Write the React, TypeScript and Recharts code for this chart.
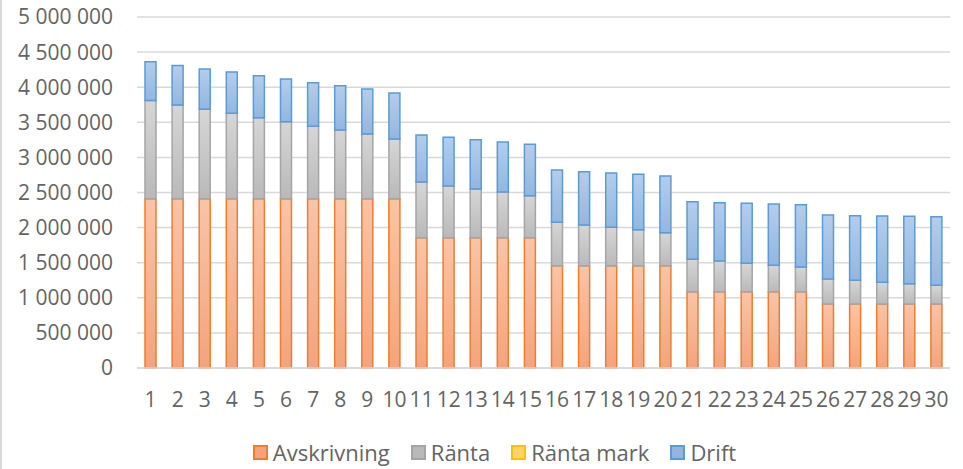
import { BarChart, Bar, XAxis, YAxis, CartesianGrid, Legend } from 'recharts';

const years = ['1', '2', '3', '4', '5', '6', '7', '8', '9', '10', '11', '12', '13', '14', '15', '16', '17', '18', '19', '20', '21', '22', '23', '24', '25', '26', '27', '28', '29', '30'];

const avskrivning = [
  2410000, 2410000, 2410000, 2410000, 2410000, 2410000, 2410000, 2410000, 2410000, 2410000,
  1855000, 1855000, 1855000, 1855000, 1855000, 1455000, 1455000, 1455000, 1455000, 1455000,
  1085000, 1085000, 1085000, 1085000, 1085000, 910000, 910000, 910000, 910000, 910000,
];
const ranta = [
  1400000, 1336000, 1275000, 1218000, 1156000, 1099000, 1033000, 980000, 923000, 852000,
  795000, 738000, 695000, 652000, 599000, 620000, 582000, 549000, 515000, 472000,
  463000, 439000, 406000, 378000, 354000, 358000, 339000, 311000, 291000, 268000,
];
const rantaMark = [
  0, 0, 0, 0, 0, 0, 0, 0, 0, 0,
  0, 0, 0, 0, 0, 0, 0, 0, 0, 0,
  0, 0, 0, 0, 0, 0, 0, 0, 0, 0,
];
const drift = [
  551000, 563000, 575000, 588000, 598000, 608000, 622000, 630000, 642000, 655000,
  669000, 693000, 703000, 712000, 733000, 746000, 759000, 774000, 789000, 808000,
  821000, 831000, 855000, 873000, 887000, 911000, 921000, 944000, 960000, 977000,
];
const yTicks = [0, 500000, 1000000, 1500000, 2000000, 2500000, 3000000, 3500000, 4000000, 4500000, 5000000];

const chartData = years.map((year, i) => ({
  year,
  avskrivning: avskrivning[i],
  ranta: ranta[i],
  rantaMark: rantaMark[i],
  drift: drift[i],
}));

const series = [
  { key: 'avskrivning', name: 'Avskrivning', stroke: '#ed7d31', top: '#f9c4a7', bottom: '#f4a47b' },
  { key: 'ranta', name: 'Ränta', stroke: '#a5a5a5', top: '#d6d6d6', bottom: '#b9b9b9' },
  { key: 'rantaMark', name: 'Ränta mark', stroke: '#ffc000', top: '#ffe29a', bottom: '#ffd369' },
  { key: 'drift', name: 'Drift', stroke: '#5b9bd5', top: '#b3cdec', bottom: '#93b6e0' },
];

const font = '"Open Sans", sans-serif';
const textColor = '#646464';

const formatNumber = (v: number) => String(v).replace(/\B(?=(\d{3})+(?!\d))/g, ' ');

const renderLegend = () => (
  <div
    style={{
      display: 'flex',
      justifyContent: 'center',
      alignItems: 'center',
      gap: 21,
      height: 30,
      paddingLeft: 26,
      fontFamily: font,
      fontSize: 22,
      color: textColor,
    }}
  >
    {series.map((s) => (
      <span key={s.key} style={{ display: 'flex', alignItems: 'center' }}>
        <span
          style={{
            display: 'inline-block',
            width: 11,
            height: 11,
            border: `2px solid ${s.stroke}`,
            background: s.bottom,
            marginRight: 5,
          }}
        />
        {s.name}
      </span>
    ))}
  </div>
);

export default function App() {
  return (
    <div style={{ position: 'fixed', left: 0, top: 0, width: 963, height: 469, background: '#fff' }}>
      <div style={{ position: 'absolute', left: 0, top: 0, width: 2, height: 469, background: '#d9d9d9' }} />
      <BarChart
        width={963}
        height={469}
        data={chartData}
        margin={{ top: 17, right: 13, left: 0, bottom: 26 }}
        barCategoryGap="55%"
      >
        <defs>
          {series.map((s) => (
            <linearGradient key={s.key} id={`grad-${s.key}`} x1="0" y1="0" x2="0" y2="1">
              <stop offset="0%" stopColor={s.top} />
              <stop offset="100%" stopColor={s.bottom} />
            </linearGradient>
          ))}
        </defs>
        <CartesianGrid vertical={false} stroke="#d9d9d9" strokeWidth={1.5} />
        <XAxis
          dataKey="year"
          height={45}
          interval={0}
          axisLine={{ stroke: '#d9d9d9', strokeWidth: 1.5 }}
          tickLine={false}
          tickSize={0}
          tickMargin={24}
          tick={{ fill: textColor, fontSize: 21, fontFamily: font }}
        />
        <YAxis
          width={137}
          domain={[0, 5000000]}
          ticks={yTicks}
          interval={0}
          axisLine={false}
          tickLine={false}
          tickSize={0}
          tickMargin={24}
          tickFormatter={formatNumber}
          tick={{ fill: textColor, fontSize: 21, fontFamily: font }}
        />
        <Legend verticalAlign="bottom" content={renderLegend} wrapperStyle={{ left: 0, bottom: 2, width: 963 }} />
        {series.map((s) => (
          <Bar
            key={s.key}
            dataKey={s.key}
            name={s.name}
            stackId="a"
            barSize={11}
            fill={`url(#grad-${s.key})`}
            stroke={s.stroke}
            strokeWidth={1.5}
            isAnimationActive={false}
          />
        ))}
      </BarChart>
    </div>
  );
}
